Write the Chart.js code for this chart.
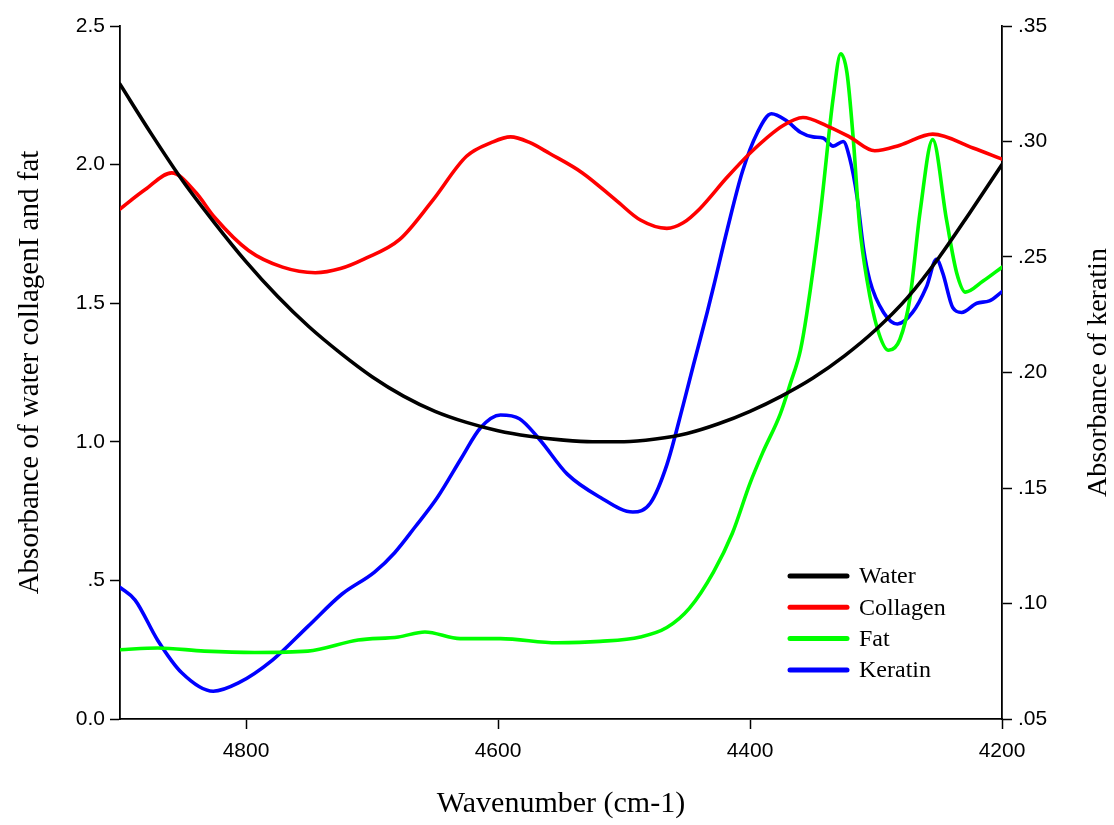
<!DOCTYPE html>
<html><head><meta charset="utf-8">
<script src="https://cdn.jsdelivr.net/npm/chart.js@4"></script>
<style>html,body{margin:0;padding:0;background:#fff}#wrap{width:1114px;height:825px}</style>
</head><body><div id="wrap"><canvas id="c" width="1114" height="825"></canvas></div>
<script>
// ---- data ----
const xTicks = [4800, 4600, 4400, 4200];
const xTickLabels = ['4800', '4600', '4400', '4200'];
const leftTicks = [0, 0.5, 1, 1.5, 2, 2.5];
const leftTickLabels = ['0.0', '.5', '1.0', '1.5', '2.0', '2.5'];
const rightTicks = [0.05, 0.10, 0.15, 0.20, 0.25, 0.30, 0.35];
const rightTickLabels = ['.05', '.10', '.15', '.20', '.25', '.30', '.35'];

const waterWn  = [4900,4875,4850,4825,4800,4775,4750,4725,4700,4675,4650,4625,4600,4575,4550,4525,4500,4475,4450,4425,4400,4375,4350,4325,4300,4275,4250,4225,4200];
const waterAbs = [2.29,2.11,1.94,1.79,1.65,1.525,1.415,1.32,1.235,1.165,1.11,1.07,1.04,1.02,1.007,1.0,1.0,1.01,1.03,1.065,1.11,1.165,1.23,1.31,1.405,1.52,1.665,1.83,2.0];

const collWn  = [4900,4880,4859,4840,4825,4798,4771,4745,4725,4706,4678,4652,4625,4605,4590,4575,4559,4533,4506,4487,4466,4453,4440,4418,4398,4374,4358,4339,4321,4301,4281,4255,4223,4200];
const collAbs = [1.84,1.91,1.97,1.90,1.81,1.69,1.63,1.61,1.625,1.66,1.73,1.87,2.03,2.08,2.10,2.08,2.04,1.97,1.87,1.80,1.77,1.79,1.84,1.955,2.05,2.14,2.17,2.14,2.10,2.05,2.07,2.11,2.06,2.02];

const fatWn  = [4900,4870,4833,4793,4751,4711,4679,4658,4630,4598,4553,4519,4487,4466,4448,4429,4414,4400,4390,4376,4368,4360,4355,4344,4334,4328,4323,4318,4313,4307,4299,4290,4281,4273,4265,4255,4244,4236,4229,4215,4200];
const fatAbs = [0.25,0.256,0.245,0.24,0.245,0.285,0.296,0.314,0.29,0.29,0.275,0.28,0.296,0.33,0.40,0.53,0.67,0.85,0.96,1.10,1.21,1.33,1.46,1.83,2.24,2.40,2.33,2.09,1.78,1.58,1.41,1.33,1.37,1.52,1.83,2.09,1.80,1.61,1.54,1.58,1.63];

const kerWn  = [4900,4888,4870,4851,4826,4806,4779,4751,4724,4698,4682,4666,4648,4629,4614,4598,4583,4567,4545,4519,4493,4479,4466,4453,4445,4434,4429,4418,4406,4394,4383,4371,4360,4350,4342,4334,4326,4321,4315,4310,4305,4294,4283,4271,4260,4252,4247,4239,4232,4220,4210,4200];
const kerAbs = [0.107,0.1015,0.084,0.070,0.062,0.0656,0.0755,0.090,0.104,0.1136,0.122,0.133,0.146,0.163,0.176,0.1816,0.180,0.171,0.156,0.146,0.1396,0.1435,0.160,0.186,0.203,0.226,0.237,0.262,0.287,0.304,0.312,0.309,0.304,0.302,0.3015,0.298,0.300,0.293,0.276,0.254,0.240,0.226,0.221,0.226,0.237,0.249,0.243,0.228,0.226,0.230,0.231,0.235];

const seriesNames = ['Water', 'Collagen', 'Fat', 'Keratin'];
const seriesColors = ['#000000', '#ff0000', '#00ff00', '#0000ff'];

const xTitle = 'Wavenumber (cm-1)';
const yTitle = 'Absorbance of water collagenI and fat';
const y1Title = 'Absorbance of keratin';

// ---- chart ----
const pts = (xs, ys) => xs.map((x, i) => ({x: x, y: ys[i]}));
const SANS = "'Liberation Sans', Arial, sans-serif";
const SERIF = "'Liberation Serif', 'Times New Roman', serif";

const mk = (i, xs, ys, axis) => ({
  label: seriesNames[i], data: pts(xs, ys), yAxisID: axis,
  borderColor: seriesColors[i], backgroundColor: seriesColors[i],
  borderWidth: 3.6, pointRadius: 0, fill: false,
  cubicInterpolationMode: 'monotone', borderCapStyle: 'round', borderJoinStyle: 'round'
});

const legendPlugin = {
  id: 'customLegend',
  afterDatasetsDraw(chart, args, opts) {
    const ctx = chart.ctx;
    ctx.save();
    chart.data.datasets.forEach((ds, i) => {
      const y = opts.y + i * opts.rowGap;
      ctx.strokeStyle = ds.borderColor;
      ctx.lineWidth = 5;
      ctx.lineCap = 'round';
      ctx.beginPath();
      ctx.moveTo(opts.x, y);
      ctx.lineTo(opts.x + opts.lineLen, y);
      ctx.stroke();
      ctx.fillStyle = '#000';
      ctx.font = opts.font;
      ctx.textBaseline = 'middle';
      ctx.textAlign = 'left';
      ctx.fillText(ds.label, opts.x + opts.lineLen + opts.gap, y + 1);
    });
    ctx.restore();
  }
};

const rightTitlePlugin = {
  id: 'rightTitle',
  afterDraw(chart, args, opts) {
    const ctx = chart.ctx;
    const a = chart.chartArea;
    ctx.save();
    ctx.translate(opts.x, (a.top + a.bottom) / 2);
    ctx.rotate(-Math.PI / 2);
    ctx.fillStyle = '#000';
    ctx.font = opts.font;
    ctx.textAlign = 'center';
    ctx.textBaseline = 'middle';
    ctx.fillText(y1Title, 0, 0);
    ctx.restore();
  }
};

new Chart(document.getElementById('c'), {
  type: 'line',
  data: {
    datasets: [
      mk(0, waterWn, waterAbs, 'y'),
      mk(1, collWn, collAbs, 'y'),
      mk(2, fatWn, fatAbs, 'y'),
      mk(3, kerWn, kerAbs, 'y1')
    ]
  },
  options: {
    responsive: false,
    animation: false,
    devicePixelRatio: 1,
    layout: {padding: {top: 26, left: 0, right: 0, bottom: 0}},
    plugins: {
      legend: {display: false},
      tooltip: {enabled: false},
      customLegend: {x: 790, y: 576, rowGap: 31.3, lineLen: 57, gap: 12, font: "24px " + SERIF},
      rightTitle: {x: 1099, font: "28px " + SERIF}
    },
    scales: {
      x: {
        type: 'linear', position: 'bottom', reverse: true, min: 4200, max: 4900,
        afterBuildTicks: s => { s.ticks = xTicks.map(v => ({value: v})); },
        afterFit: s => { s.height = 106; },
        grid: {drawOnChartArea: false, drawTicks: true, tickLength: 10, tickColor: '#000', tickWidth: 1.5},
        border: {display: true, color: '#000', width: 1.8},
        ticks: {color: '#000', font: {family: SANS, size: 21}, padding: 10, maxRotation: 0,
          callback: (v, i) => xTickLabels[i]},
        title: {display: true, text: xTitle, color: '#000', font: {family: SERIF, size: 30}, padding: {top: 0, bottom: 3}}
      },
      y: {
        type: 'linear', position: 'left', min: 0, max: 2.5,
        afterBuildTicks: s => { s.ticks = leftTicks.map(v => ({value: v})); },
        afterFit: s => { s.width = 120; },
        grid: {drawOnChartArea: false, drawTicks: true, tickLength: 10, tickColor: '#000', tickWidth: 1.5},
        border: {display: true, color: '#000', width: 1.8},
        ticks: {color: '#000', font: {family: SANS, size: 21}, padding: 5,
          callback: (v, i) => leftTickLabels[i]},
        title: {display: true, text: yTitle, color: '#000', font: {family: SERIF, size: 29}, padding: {top: 13, bottom: 0}}
      },
      y1: {
        type: 'linear', position: 'right', min: 0.05, max: 0.35,
        afterBuildTicks: s => { s.ticks = rightTicks.map(v => ({value: v})); },
        afterFit: s => { s.width = 112; },
        grid: {drawOnChartArea: false, drawTicks: true, tickLength: 10, tickColor: '#000', tickWidth: 1.5},
        border: {display: true, color: '#000', width: 1.8},
        ticks: {color: '#000', font: {family: SANS, size: 21}, padding: 6,
          callback: (v, i) => rightTickLabels[i]}
      }
    }
  },
  plugins: [legendPlugin, rightTitlePlugin]
});
</script>
</body></html>
